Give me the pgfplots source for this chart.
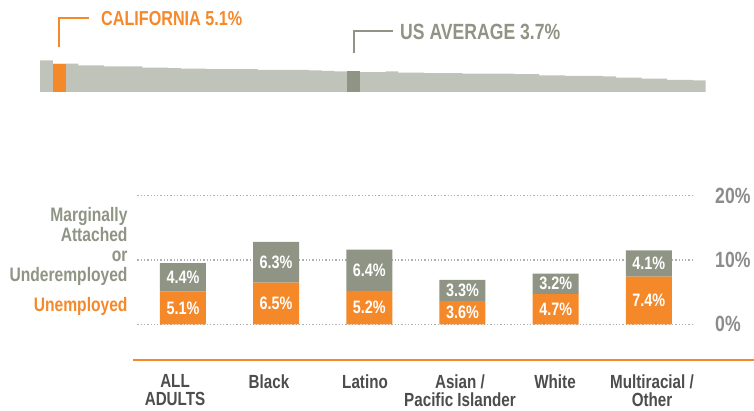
\documentclass[border=0pt]{standalone}
\usepackage{fontspec}
\setmainfont{Liberation Sans}[FakeStretch=0.8]
\usepackage{pgfplots}
\usepackage{pgfplotstable}
\pgfplotsset{compat=1.18}
\definecolor{caorange}{HTML}{F5892A}
\definecolor{darkgg}{HTML}{8F9484}
\definecolor{lightgg}{HTML}{C0C3B9}
\definecolor{ticklab}{HTML}{8C8C8C}
\definecolor{catlab}{HTML}{4D4D4D}
\definecolor{gridc}{HTML}{B0B0B0}
% x = group index, u = unemployed, m = marginally attached / underemployed
\pgfplotstableread{
x u m
0 5.1 4.4
1 6.5 6.3
2 5.2 6.4
3 3.6 3.3
4 4.7 3.2
5 7.4 4.1
}\groups
\begin{document}
\begin{tikzpicture}[x=1pt,y=1pt]
\useasboundingbox (0,0) rectangle (754,410);
% ---------- top strip: states ranked ----------
\begin{axis}[
  at={(40pt,318pt)}, anchor=south west,
  scale only axis, width=665.6pt, height=33.3pt,
  xmin=-0.5, xmax=51.5, ymin=0, ymax=6,
  axis lines=none, ticks=none,
  ybar=0pt, bar width=12.8pt, clip=false,
]
\addplot[fill=lightgg, draw=none, bar shift=0pt] coordinates {
(0,5.7)(1,5.1)(2,5.1)(3,4.8)(4,4.8)(5,4.6)(6,4.6)(7,4.6)(8,4.4)(9,4.4)
(10,4.3)(11,4.2)(12,4.2)(13,4.1)(14,4.1)(15,4.1)(16,4.1)(17,4.0)(18,4.0)(19,4.0)
(20,4.0)(21,3.9)(22,3.8)(23,3.7)(24,3.7)(25,3.6)(26,3.6)(27,3.7)(28,3.5)(29,3.5)
(30,3.4)(31,3.4)(32,3.4)(33,3.3)(34,3.3)(35,3.3)(36,3.3)(37,3.2)(38,3.2)(39,3.0)
(40,3.0)(41,2.9)(42,2.9)(43,2.9)(44,2.8)(45,2.6)(46,2.6)(47,2.4)(48,2.4)(49,2.2)
(50,2.2)(51,2.1)};
\addplot[fill=caorange, draw=none, bar shift=0pt] coordinates {(1,5.1)};
\addplot[fill=darkgg, draw=none, bar shift=0pt] coordinates {(24,3.7)};
\end{axis}
\draw[caorange, line width=2pt] (59.2,363) -- (59.2,391.7) -- (89.3,391.7);
\node[anchor=base west, inner sep=0pt, text=caorange, font=\fontsize{20.2}{22}\selectfont\bfseries] at (101,384.3) {CALIFORNIA 5.1\%};
\draw[darkgg, line width=2pt] (353.5,357.3) -- (353.5,379.3) -- (392.7,379.3);
\node[anchor=base west, inner sep=0pt, text=darkgg, font=\fontsize{22}{24}\selectfont\bfseries] at (400,370.7) {US AVERAGE 3.7\%};
% ---------- bottom: stacked bars ----------
\pgfplotsset{bottomgeom/.style={
  at={(137.3pt,85.7pt)}, anchor=south west,
  scale only axis, width=557.2pt, height=128.6pt,
  xmin=-0.49, xmax=5.49, ymin=0, ymax=20, clip=false}}
\begin{axis}[
  bottomgeom,
  ybar stacked, bar width=46pt,
  axis line style={draw=none}, major tick length=0pt,
  ymajorgrids, grid style={gridc, line width=1.3pt, dash pattern=on 1.3pt off 2pt},
  ytick={0,10,20}, yticklabels={0\%,10\%,20\%},
  yticklabel pos=right,
  yticklabel style={anchor=west, inner sep=0pt, xshift=20.5pt, text=ticklab, font=\fontsize{22}{24}\selectfont\bfseries},
  xtick={-0.085,0.923,1.954,2.973,3.993,5.034},
  xticklabels={{ALL\\ADULTS},Black,Latino,{Asian /\\Pacific Islander},White,{Multiracial /\\Other}},
  xticklabel style={anchor=north, align=center, inner sep=0pt, yshift=-50pt, text=catlab, font=\fontsize{19}{18}\selectfont\bfseries},
]
\addplot[fill=caorange, draw=none] table[x=x, y=u] {\groups};
\addplot[fill=darkgg, draw=none] table[x=x, y=m] {\groups};
\end{axis}
% value labels centred in each segment
\begin{axis}[
  bottomgeom, hide axis,
  nodes near coords={\pgfmathprintnumber[fixed,fixed zerofill,precision=1,assume math mode=true]{\pgfplotspointmeta}\%},
  every node near coord/.style={anchor=center, inner sep=0pt, text=white, font=\fontsize{18}{20}\selectfont\bfseries},
]
\addplot[only marks, mark=none, point meta=\thisrow{u}] table[x=x, y expr=\thisrow{u}/2] {\groups};
\addplot[only marks, mark=none, point meta=\thisrow{m}] table[x=x, y expr=\thisrow{u}+\thisrow{m}/2] {\groups};
\end{axis}
\draw[caorange, line width=2pt] (133,50) -- (754,50);
\begin{scope}[every node/.style={anchor=base east, inner sep=0pt, text=darkgg, font=\fontsize{19.5}{21}\selectfont\bfseries}]
\node at (127.7,188.3) {Marginally};
\node at (127.7,168.3) {Attached};
\node at (127.7,148.3) {or};
\node at (127.7,129) {Underemployed};
\end{scope}
\node[anchor=base east, inner sep=0pt, text=caorange, font=\fontsize{19.5}{21}\selectfont\bfseries] at (127.7,99) {Unemployed};
\end{tikzpicture}
\end{document}
